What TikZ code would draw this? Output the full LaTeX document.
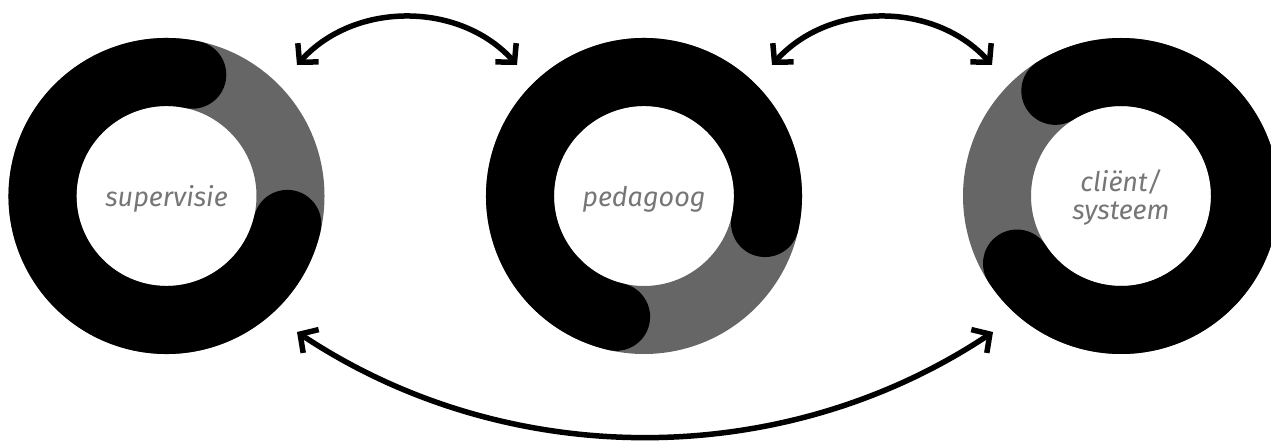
\documentclass[tikz,border=0pt]{standalone}
\usepackage{fontspec}
\setmainfont{Fira Sans}
\usetikzlibrary{arrows.meta,calc}
\definecolor{ringgray}{RGB}{102,102,102}
\definecolor{txtgray}{RGB}{118,118,118}
\begin{document}
\begin{tikzpicture}[x=1pt,y=1pt,
  band/.style={line width=68pt},
  lbl/.style={font=\fontsize{27}{28}\selectfont\itshape, text=txtgray, align=center, inner sep=0pt},
  link/.style={line width=5.5pt, {Straight Barb[length=13pt,width=28pt]}-{Straight Barb[length=13pt,width=28pt]}}
]
\useasboundingbox (0,0) rectangle (1271,441);
\coordinate (c1) at (166.5,245);
\coordinate (c2) at (644,245);
\coordinate (c3) at (1121,245);
% ring 1
\draw[band, ringgray] (c1) circle[radius=124];
\draw[band, line cap=round] ($(c1)+(78:124)$) arc[start angle=78, end angle=347, radius=124];
% ring 2
\draw[band, ringgray] (c2) circle[radius=124];
\draw[band, line cap=round] ($(c2)+(-12.6:124)$) arc[start angle=-12.6, end angle=257, radius=124];
% ring 3
\draw[band, ringgray] (c3) circle[radius=124];
\draw[band, line cap=round] ($(c3)+(213:124)$) arc[start angle=213, end angle=482, radius=124];
% labels
\node[lbl, anchor=base] (sup) at (166.5,234) {supervisie};
\node[lbl, anchor=base] (ped) at (644,234) {pedagoog};
\node[lbl, anchor=center] (cli) at (1121,244) {cliënt/\\systeem};
% arrows
\coordinate (t1a) at (297,376);
\coordinate (t1b) at (517,376);
\coordinate (t2a) at (772,376);
\coordinate (t2b) at (992,376);
\coordinate (b1a) at (297,109);
\coordinate (b1b) at (993,109);
\draw[link] (t1a) to[out=48,in=132] (t1b);
\draw[link] (t2a) to[out=48,in=132] (t2b);
\draw[link] (b1a) to[out=-33.6,in=-146.4,looseness=0.93] (b1b);
\end{tikzpicture}
\end{document}
